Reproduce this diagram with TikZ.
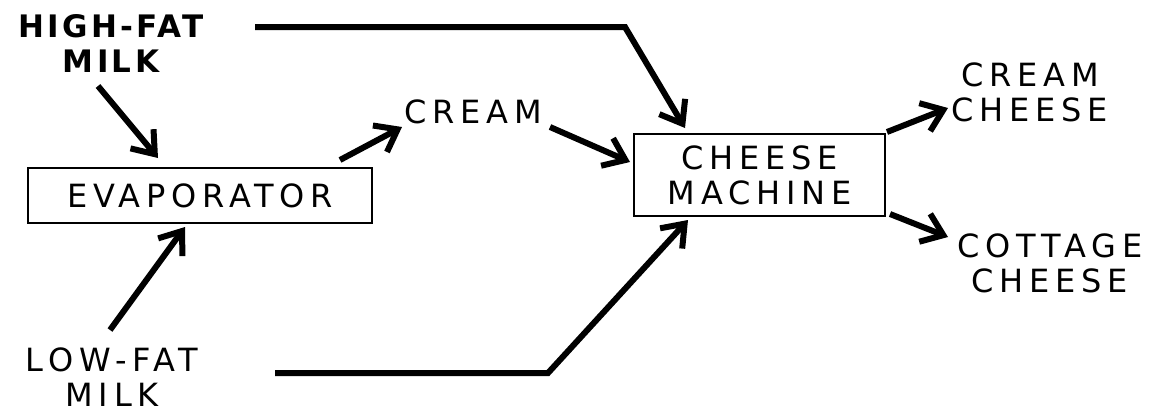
\documentclass[tikz,border=0pt]{standalone}
\usepackage{fontspec}
\setmainfont{DejaVu Sans}[LetterSpace=18]
\newfontfamily\negrito{DejaVu Sans}[LetterSpace=11]
\usetikzlibrary{arrows.meta}

\begin{document}
\begin{tikzpicture}[x=1pt, y=-1pt,
        font=\fontsize{32}{35}\selectfont,
        caixa/.style={draw, line width=2pt, align=center, inner sep=0pt},
        rot/.style={align=center, inner sep=0pt},
        seta/.style={line width=6pt, -{Straight Barb[length=20pt, width=30pt]}}]
        \useasboundingbox (0,0) rectangle (1149,410);
        \node[rot, font=\fontsize{31}{35}\negrito\bfseries] (hf) at (111,43) {HIGH-FAT\\MILK};
        \node[rot] (lf) at (112,377) {LOW-FAT\\MILK};
        \node[caixa, minimum width=344pt, minimum height=55pt] (ev) at (200,195.5) {EVAPORATOR};
        \node[rot] (cr) at (473,112) {CREAM};
        \node[caixa, minimum width=251pt, minimum height=82pt] (cm) at (759.5,175) {CHEESE\\MACHINE};
        \node[rot] (cc) at (1030,92) {CREAM\\CHEESE};
        \node[rot] (ct) at (1050,263) {COTTAGE\\CHEESE};
        \coordinate (hfb) at (625,27);
        \coordinate (lfb) at (548,373);
        \draw[seta] ([shift={(144,-16)}]hf.center) -- (hfb) -- ([shift={(-74.5,-47)}]cm.center);
        \draw[seta] ([shift={(-13,43)}]hf.center) -- ([shift={(-42,-37.5)}]ev.center);
        \draw[seta] ([shift={(140,-35.5)}]ev.center) -- ([shift={(-71,15)}]cr.center);
        \draw[seta] ([shift={(77,15)}]cr.center) -- ([shift={(-129.5,-13)}]cm.center);
        \draw[seta] ([shift={(-2,-47)}]lf.center) -- ([shift={(-15,31.5)}]ev.center);
        \draw[seta] ([shift={(163,-4)}]lf.center) -- (lfb) -- ([shift={(-71.5,45)}]cm.center);
        \draw[seta] ([shift={(127.5,-43)}]cm.center) -- ([shift={(-82,16)}]cc.center);
        \draw[seta] ([shift={(130.5,39)}]cm.center) -- ([shift={(-102,-26)}]ct.center);
    \end{tikzpicture}
\end{document}
